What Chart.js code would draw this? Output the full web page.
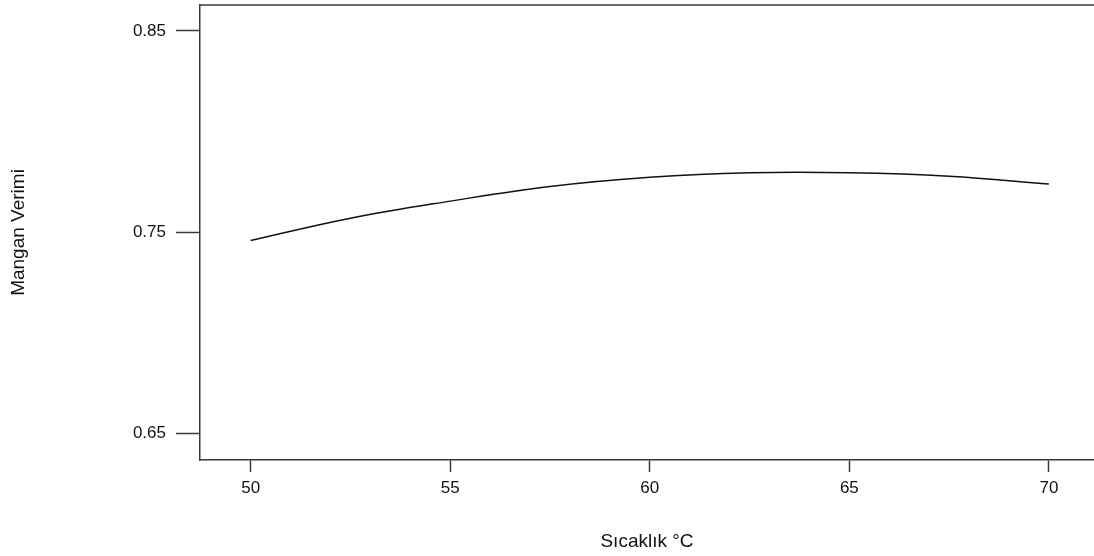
<!DOCTYPE html>
<html>
<head>
<meta charset="utf-8">
<script src="https://cdn.jsdelivr.net/npm/chart.js@4.4.0/dist/chart.umd.min.js"></script>
<style>
  html, body { margin: 0; padding: 0; background: #ffffff; }
  #wrap { width: 1094px; height: 556px; position: relative; }
</style>
</head>
<body>
<div id="wrap"><canvas id="c" width="1094" height="556"></canvas></div>
<script>
// Data
const temperatures = [50, 52.5, 55, 57.5, 60, 62.5, 65, 67.5, 70];
const yieldValues = [0.7458, 0.7569, 0.7654, 0.7727, 0.7773, 0.7795, 0.7795, 0.7778, 0.7739];
const xTickValues = [50, 55, 60, 65, 70];
const yTickValues = [0.65, 0.75, 0.85];
const xTitle = 'Sıcaklık °C';
const yTitle = 'Mangan Verimi';

const axisColor = '#3a3a3a';
const fontFamily = '"Liberation Sans", Arial, sans-serif';

const topBorder = {
  id: 'topBorder',
  afterDraw(chart) {
    const { ctx, chartArea } = chart;
    ctx.save();
    ctx.strokeStyle = axisColor;
    ctx.lineWidth = 1.5;
    ctx.beginPath();
    ctx.moveTo(chartArea.left, chartArea.top);
    ctx.lineTo(chartArea.right + 2, chartArea.top);
    ctx.stroke();
    ctx.restore();
  }
};

new Chart(document.getElementById('c'), {
  type: 'line',
  data: {
    datasets: [{
      data: temperatures.map((t, i) => ({ x: t, y: yieldValues[i] })),
      borderColor: '#111111',
      borderWidth: 1.5,
      pointRadius: 0,
      tension: 0.4,
      fill: false
    }]
  },
  options: {
    responsive: false,
    animation: false,
    devicePixelRatio: 1,
    layout: { padding: { top: 5, right: 0, left: 0, bottom: 0 } },
    plugins: { legend: { display: false }, tooltip: { enabled: false } },
    scales: {
      x: {
        type: 'linear',
        min: 48.73,
        max: 71.13,
        afterBuildTicks(scale) { scale.ticks = xTickValues.map(v => ({ value: v })); },
        afterFit(scale) { scale.height = 96; scale.paddingLeft = 0; scale.paddingRight = 0; },
        border: { display: true, color: axisColor, width: 1.5 },
        grid: { drawOnChartArea: false, drawTicks: true, tickLength: 12, tickColor: axisColor, tickWidth: 1.5 },
        ticks: { color: '#111', padding: 6, font: { family: fontFamily, size: 17 }, maxRotation: 0 },
        title: { display: true, text: xTitle, color: '#111', font: { family: fontFamily, size: 19 }, padding: { top: 0, bottom: 3 } }
      },
      y: {
        type: 'linear',
        min: 0.6367,
        max: 0.8629,
        afterBuildTicks(scale) { scale.ticks = yTickValues.map(v => ({ value: v })); },
        afterFit(scale) { scale.width = 200; scale.paddingTop = 0; scale.paddingBottom = 0; },
        border: { display: true, color: axisColor, width: 1.5 },
        grid: { drawOnChartArea: false, drawTicks: true, tickLength: 24, tickColor: axisColor, tickWidth: 1.5 },
        ticks: { color: '#111', padding: 10, font: { family: fontFamily, size: 17 }, callback: v => v.toFixed(2) },
        title: { display: true, text: yTitle, color: '#111', font: { family: fontFamily, size: 19 }, padding: { top: 7, bottom: 0 } }
      }
    }
  },
  plugins: [topBorder]
});
</script>
</body>
</html>
